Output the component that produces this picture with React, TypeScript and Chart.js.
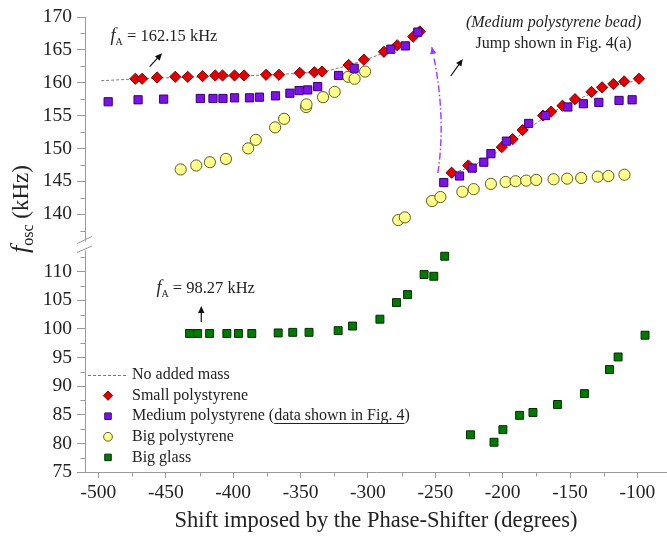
import React, { useEffect, useRef } from 'react';
import { Chart, registerables } from 'chart.js';

Chart.register(...registerables);

const SERIF = '"Liberation Serif", "DejaVu Serif", "Times New Roman", serif';
const AXIS = '#9a9a9a';
const TEXT = '#222222';

// ---------- tick values ----------
const xMajorTicks = [-500, -450, -400, -350, -300, -250, -200, -150, -100];
const xMinorTicks = [-475, -425, -375, -325, -275, -225, -175, -125];
const yUpperMajor = [140, 145, 150, 155, 160, 165, 170];
const yUpperMinor = [137.5, 142.5, 147.5, 152.5, 157.5, 162.5, 167.5];
const yLowerMajor = [75, 80, 85, 90, 95, 100, 105, 110];
const yLowerMinor = [77.5, 82.5, 87.5, 92.5, 97.5, 102.5, 107.5, 112.5];

// ---------- series ----------
const noMassX = [-498, -470, -440, -400, -370, -345, -330, -315, -300, -285, -270, -262, -250,
  -240, -225, -210, -195, -180, -165, -150, -135, -120, -105, -98];
const noMassY: (number | null)[] = [160.3, 160.6, 160.8, 161.0, 161.2, 161.5, 161.8, 162.6, 163.6, 164.8, 166.3, 167.5, null,
  146.0, 147.1, 148.6, 150.8, 153.1, 155.3, 156.9, 158.3, 159.4, 160.1, 160.5];

const smallX = [-472.6, -467.6, -456.5, -443, -433.8, -422.7, -413.3, -407.9, -399, -391.9, -375.6, -366,
  -350.6, -339.8, -334.1, -314.3, -303, -288.1, -278.3, -266.4, -261.5,
  -237.9, -225.5, -200.6, -192.6, -185.2, -170, -164, -155.6, -146.3, -134.1, -126.2, -117.8, -109.8, -98.8];
const smallY = [160.6, 160.6, 160.8, 160.9, 160.9, 161.0, 161.1, 161.1, 161.1, 161.1, 161.2, 161.2,
  161.5, 161.6, 161.7, 162.7, 163.5, 164.7, 165.7, 167.0, 167.8,
  146.3, 147.4, 150.2, 151.4, 152.8, 155.0, 155.6, 156.5, 157.5, 158.6, 159.3, 159.8, 160.2, 160.6];

const mediumX = [-492.8, -470.6, -451.6, -424.4, -415, -407.6, -399, -387.9, -380.5, -368.6, -357.9, -351.1,
  -344.7, -337.3, -321.8, -310.2, -283, -272.2, -263,
  -243.7, -232, -222.6, -214, -208.7, -197.2, -180.7, -168.2, -151.6, -140.1, -128.6, -113.6, -103.9];
const mediumY = [157.1, 157.4, 157.5, 157.6, 157.6, 157.6, 157.7, 157.7, 157.8, 158.0, 158.4, 158.8,
  158.9, 159.4, 161.1, 162.2, 165.1, 165.6, 167.7,
  144.8, 145.8, 147.0, 147.9, 149.2, 151.1, 153.8, 155.0, 156.3, 156.8, 157.0, 157.3, 157.4];

const bigPsX = [-439, -427.4, -417.3, -405.4, -388.9, -383.2, -368.9, -362.2, -345.9, -345.6, -333.3, -324.7,
  -314.6, -309.9, -302.1,
  -277.5, -272.6, -252.4, -246.2, -229.9, -221.5, -208.7, -197.8, -190.4, -182.5, -175.1, -162.2, -152.1,
  -141.7, -129.4, -121.5, -109.6];
const bigPsY = [146.8, 147.4, 147.9, 148.4, 150.0, 151.3, 153.2, 154.5, 156.3, 156.7, 157.8, 158.6,
  160.9, 160.6, 161.7,
  139.1, 139.5, 142.0, 142.6, 143.4, 143.8, 144.6, 144.9, 145.0, 145.1, 145.2, 145.3, 145.4,
  145.5, 145.7, 145.8, 146.0];

const glassX = [-432.4, -426.4, -417.5, -404.7, -396.1, -386.2, -366.6, -355.8, -343.7, -322.1, -311.4, -291.1,
  -278.8, -270.6, -258.3, -251.1, -243,
  -223.9, -206.4, -199.8, -187.4, -177.5, -159.3, -139.3, -120.7, -114.3, -94.3];
const glassY = [99.2, 99.2, 99.2, 99.2, 99.2, 99.2, 99.3, 99.4, 99.4, 99.7, 100.5, 101.7,
  104.6, 106.0, 109.5, 109.2, 112.7,
  81.5, 80.2, 82.4, 84.9, 85.4, 86.8, 88.7, 92.9, 95.1, 98.9];

const zip = (xs: number[], ys: (number | null)[]) => xs.map((x, i) => ({ x, y: ys[i] }));

// ---------- styles ----------
const STY = {
  small: { style: 'rectRot', r: 5.6, fill: '#e40000', stroke: '#7a0000' },
  medium: { style: 'rect', r: 5.8, fill: '#7b12e6', stroke: '#3a0075' },
  bigPs: { style: 'circle', r: 5.6, fill: '#ffff8c', stroke: '#5c5c22' },
  glass: { style: 'rect', r: 5.6, fill: '#007a00', stroke: '#002e00' },
};

const legendRows = [
  { kind: 'line', label: 'No added mass' },
  { kind: 'small', label: 'Small polystyrene' },
  { kind: 'medium', label: 'Medium polystyrene (', underline: 'data shown in Fig. 4', tail: ')' },
  { kind: 'bigPs', label: 'Big polystyrene' },
  { kind: 'glass', label: 'Big glass' },
];

function drawArrow(ctx: CanvasRenderingContext2D, x1: number, y1: number, x2: number, y2: number, color: string) {
  const ang = Math.atan2(y2 - y1, x2 - x1);
  const L = 7, W = 3.2;
  ctx.save();
  ctx.strokeStyle = color;
  ctx.fillStyle = color;
  ctx.lineWidth = 1.2;
  ctx.beginPath();
  ctx.moveTo(x1, y1);
  ctx.lineTo(x2 - Math.cos(ang) * L * 0.8, y2 - Math.sin(ang) * L * 0.8);
  ctx.stroke();
  ctx.beginPath();
  ctx.moveTo(x2, y2);
  ctx.lineTo(x2 - Math.cos(ang) * L - Math.sin(ang) * W, y2 - Math.sin(ang) * L + Math.cos(ang) * W);
  ctx.lineTo(x2 - Math.cos(ang) * L + Math.sin(ang) * W, y2 - Math.sin(ang) * L - Math.cos(ang) * W);
  ctx.closePath();
  ctx.fill();
  ctx.restore();
}

function drawMarker(ctx: CanvasRenderingContext2D, kind: string, x: number, y: number, r: number) {
  const s = (STY as any)[kind];
  ctx.save();
  ctx.fillStyle = s.fill;
  ctx.strokeStyle = s.stroke;
  ctx.lineWidth = 1;
  ctx.beginPath();
  if (s.style === 'rectRot') {
    ctx.moveTo(x, y - r); ctx.lineTo(x + r, y); ctx.lineTo(x, y + r); ctx.lineTo(x - r, y); ctx.closePath();
  } else if (s.style === 'circle') {
    ctx.arc(x, y, r, 0, Math.PI * 2);
  } else {
    const h = r * Math.SQRT1_2;
    ctx.rect(x - h, y - h, 2 * h, 2 * h);
  }
  ctx.fill();
  ctx.stroke();
  ctx.restore();
}

function richText(ctx: CanvasRenderingContext2D, x: number, y: number, parts: [string, string, number][]) {
  let cx = x;
  for (const [t, font, dy] of parts) {
    ctx.font = font;
    ctx.fillText(t, cx, y + dy);
    cx += ctx.measureText(t).width;
  }
}

const decorPlugin = {
  id: 'decor',
  afterDraw(chart: any) {
    const ctx: CanvasRenderingContext2D = chart.ctx;
    const xs = chart.scales.x, yU = chart.scales.yUp, yL = chart.scales.yLow;
    const axisX = Math.round(yU.right) + 0.5;
    const axisY = Math.round(xs.top) + 0.5;
    ctx.save();
    // minor ticks
    ctx.strokeStyle = AXIS;
    ctx.lineWidth = 1;
    ctx.beginPath();
    for (const v of yUpperMinor) {
      const p = Math.round(yU.getPixelForValue(v)) + 0.5;
      ctx.moveTo(axisX - 5, p); ctx.lineTo(axisX, p);
    }
    for (const v of yLowerMinor) {
      const p = Math.round(yL.getPixelForValue(v)) + 0.5;
      ctx.moveTo(axisX - 5, p); ctx.lineTo(axisX, p);
    }
    for (const v of xMinorTicks) {
      const p = Math.round(xs.getPixelForValue(v)) + 0.5;
      ctx.moveTo(p, axisY); ctx.lineTo(p, axisY + 4);
    }
    ctx.stroke();
    // axis break
    const gy = yU.bottom;
    ctx.fillStyle = '#ffffff';
    ctx.fillRect(axisX - 3, gy - 5, 6, 9);
    ctx.beginPath();
    ctx.moveTo(axisX - 8.5, gy - 3); ctx.lineTo(axisX + 6.5, gy - 10);
    ctx.moveTo(axisX - 8.5, gy + 6); ctx.lineTo(axisX + 6.5, gy - 0.5);
    ctx.stroke();

    // y title
    ctx.fillStyle = TEXT;
    ctx.textAlign = 'left';
    ctx.textBaseline = 'alphabetic';
    ctx.save();
    ctx.translate(28, 253);
    ctx.rotate(-Math.PI / 2);
    richText(ctx, 0, 0, [
      ['f', `italic 26px ${SERIF}`, 0],
      ['osc', `16px ${SERIF}`, 5],
      [' (kHz)', `23px ${SERIF}`, 0],
    ]);
    ctx.restore();

    // annotations
    const px = (v: number) => xs.getPixelForValue(v);
    richText(ctx, px(-491), yU.getPixelForValue(166.35), [
      ['f', `italic 18px ${SERIF}`, 0],
      ['A', `10px ${SERIF}`, 4],
      [' = 162.15 kHz', `16.5px ${SERIF}`, 0],
    ]);
    drawArrow(ctx, px(-462), yU.getPixelForValue(162.44), px(-452.8), yU.getPixelForValue(164.47), '#111');

    richText(ctx, px(-457), yL.getPixelForValue(106.28), [
      ['f', `italic 18px ${SERIF}`, 0],
      ['A', `10px ${SERIF}`, 4],
      [' = 98.27 kHz', `16.5px ${SERIF}`, 0],
    ]);
    drawArrow(ctx, px(-423.7), yL.getPixelForValue(101.2), px(-423.7), yL.getPixelForValue(104.0), '#111');

    ctx.textAlign = 'center';
    ctx.font = `italic 16px ${SERIF}`;
    ctx.fillText('(Medium polystyrene bead)', px(-162.2), yU.getPixelForValue(168.48));
    ctx.font = `16px ${SERIF}`;
    ctx.fillText('Jump shown in Fig. 4(a)', px(-162.2), yU.getPixelForValue(165.28));
    ctx.textAlign = 'left';
    drawArrow(ctx, px(-238.5), yU.getPixelForValue(161.02), px(-229.6), yU.getPixelForValue(163.6), '#111');

    // purple curved jump arrow
    const sx = px(-248.1), sy = yU.getPixelForValue(146.26);
    const cx = px(-241.5), cy = yU.getPixelForValue(155.08);
    const ex = px(-252.6), ey = yU.getPixelForValue(165.43);
    ctx.save();
    ctx.strokeStyle = '#9a3cff';
    ctx.lineWidth = 1.4;
    ctx.setLineDash([7, 2.5, 1.5, 2.5]);
    ctx.beginPath();
    ctx.moveTo(sx, sy);
    const tEnd = 0.94;
    for (let t = 0.02; t <= tEnd; t += 0.02) {
      const qx = (1 - t) * (1 - t) * sx + 2 * (1 - t) * t * cx + t * t * ex;
      const qy = (1 - t) * (1 - t) * sy + 2 * (1 - t) * t * cy + t * t * ey;
      ctx.lineTo(qx, qy);
    }
    ctx.stroke();
    ctx.restore();
    const tx = 2 * (ex - cx), ty = 2 * (ey - cy);
    drawArrow(ctx, ex - tx * 0.001, ey - ty * 0.001, ex, ey, '#9a3cff');

    // legend
    const lx = chart.chartArea.left;
    const ly = chart.chartArea.bottom;
    ctx.textBaseline = 'middle';
    ctx.font = `16px ${SERIF}`;
    legendRows.forEach((row: any, i: number) => {
      const y = ly - 97 + i * 20.6;
      if (row.kind === 'line') {
        ctx.save();
        ctx.strokeStyle = '#777';
        ctx.lineWidth = 1;
        ctx.setLineDash([3, 2]);
        ctx.beginPath();
        ctx.moveTo(lx + 3, Math.round(y) + 0.5);
        ctx.lineTo(lx + 42, Math.round(y) + 0.5);
        ctx.stroke();
        ctx.restore();
      } else {
        drawMarker(ctx, row.kind, lx + 23, y, row.kind === 'bigPs' ? 4.4 : row.kind === 'small' ? 4.7 : 4.6);
      }
      ctx.fillStyle = TEXT;
      ctx.font = `16px ${SERIF}`;
      let tx0 = lx + 47;
      ctx.fillText(row.label, tx0, y);
      tx0 += ctx.measureText(row.label).width;
      if (row.underline) {
        ctx.fillText(row.underline, tx0, y);
        const w = ctx.measureText(row.underline).width;
        ctx.save();
        ctx.strokeStyle = TEXT;
        ctx.lineWidth = 1;
        ctx.beginPath();
        ctx.moveTo(tx0, Math.round(y + 7) + 0.5);
        ctx.lineTo(tx0 + w, Math.round(y + 7) + 0.5);
        ctx.stroke();
        ctx.restore();
        tx0 += w;
        ctx.fillText(row.tail, tx0, y);
      }
    });
    ctx.restore();
  },
};

export default function App() {
  const ref = useRef<HTMLCanvasElement | null>(null);
  useEffect(() => {
    if (!ref.current) return;
    const mk = (label: string, xs: number[], ys: number[], key: keyof typeof STY, axis: string, order: number) => ({
      label,
      data: zip(xs, ys),
      yAxisID: axis,
      pointStyle: STY[key].style as any,
      pointRadius: STY[key].r,
      pointBackgroundColor: STY[key].fill,
      pointBorderColor: STY[key].stroke,
      backgroundColor: STY[key].fill,
      borderColor: STY[key].stroke,
      pointBorderWidth: 1,
      showLine: false,
      order,
    });
    const majorTicks = (vals: number[]) => (s: any) => { s.ticks = vals.map((v) => ({ value: v })); };
    const tickFont = { family: SERIF, size: 19.5 };
    const chart = new Chart(ref.current, {
      type: 'scatter',
      data: {
        datasets: [
          {
            label: 'No added mass',
            data: zip(noMassX, noMassY) as any,
            yAxisID: 'yUp',
            showLine: true,
            spanGaps: false,
            pointRadius: 0,
            borderColor: '#777777',
            borderWidth: 1,
            borderDash: [3, 2],
            tension: 0,
            order: 5,
          } as any,
          mk('Small polystyrene', smallX, smallY, 'small', 'yUp', 2),
          mk('Medium polystyrene', mediumX, mediumY, 'medium', 'yUp', 1),
          mk('Big polystyrene', bigPsX, bigPsY, 'bigPs', 'yUp', 3),
          mk('Big glass', glassX, glassY, 'glass', 'yLow', 4),
        ],
      },
      options: {
        animation: false,
        responsive: false,
        maintainAspectRatio: false,
        events: [],
        layout: { autoPadding: false, padding: { top: 17, left: 0, right: 0, bottom: 0 } },
        plugins: { legend: { display: false }, tooltip: { enabled: false } },
        scales: {
          x: {
            type: 'linear',
            position: 'bottom',
            min: -510,
            max: -78,
            afterBuildTicks: majorTicks(xMajorTicks),
            afterFit: (s: any) => { s.height = 67; s.paddingRight = 0; s.paddingLeft = 0; },
            ticks: { font: tickFont, color: TEXT, padding: 3, autoSkip: false, maxRotation: 0, callback: (v: any) => String(v) },
            grid: { drawOnChartArea: false, drawTicks: true, tickLength: 6, color: AXIS },
            border: { display: true, color: AXIS, width: 1 },
            title: {
              display: true,
              text: 'Shift imposed by the Phase-Shifter (degrees)',
              font: { family: SERIF, size: 22.5 },
              color: TEXT,
              padding: { top: 0, bottom: 4 },
            },
          },
          yUp: {
            type: 'linear',
            position: 'left',
            stack: 'ystack',
            stackWeight: 229.5,
            weight: 1,
            min: 135.07,
            max: 170,
            afterBuildTicks: majorTicks(yUpperMajor),
            afterFit: (s: any) => { s.width = 85; },
            ticks: { font: tickFont, color: TEXT, padding: 5, autoSkip: false, callback: (v: any) => String(v) },
            grid: { drawOnChartArea: false, drawTicks: true, tickLength: 8, color: AXIS },
            border: { display: true, color: AXIS, width: 1 },
          },
          yLow: {
            type: 'linear',
            position: 'left',
            stack: 'ystack',
            stackWeight: 225.5,
            weight: 0,
            min: 75,
            max: 114.4,
            afterBuildTicks: majorTicks(yLowerMajor),
            afterFit: (s: any) => { s.width = 85; },
            ticks: { font: tickFont, color: TEXT, padding: 5, autoSkip: false, callback: (v: any) => String(v) },
            grid: { drawOnChartArea: false, drawTicks: true, tickLength: 8, color: AXIS },
            border: { display: true, color: AXIS, width: 1 },
          },
        } as any,
      },
      plugins: [decorPlugin as any],
    });
    return () => chart.destroy();
  }, []);
  return (
    <div style={{ position: 'fixed', left: 0, top: 0, width: 667, height: 539, background: '#fff' }}>
      <canvas ref={ref} width={667} height={539} style={{ width: 667, height: 539, display: 'block' }} />
    </div>
  );
}
